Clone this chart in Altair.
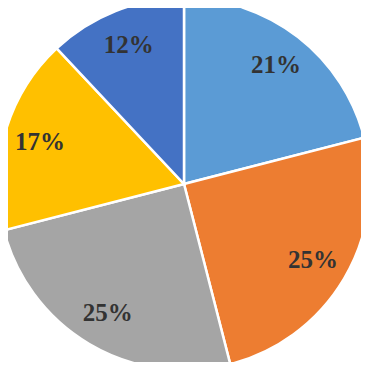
import altair as alt
import pandas as pd

categories = ["A", "B", "C", "D", "E"]
values = [21, 25, 25, 17, 12]
labels = ["21%", "25%", "25%", "17%", "12%"]
colors = ["#5B9BD5", "#ED7D31", "#A5A5A5", "#FFC000", "#4472C4"]

df = pd.DataFrame({"cat": categories, "value": values, "label": labels,
                   "idx": list(range(len(categories)))})

base = alt.Chart(df).encode(
    theta=alt.Theta("value:Q", stack=True),
    order=alt.Order("idx:Q"),
)

arcs = base.mark_arc(radius=186, stroke="white", strokeWidth=2.5,
                     x=176, y=176).encode(
    color=alt.Color("cat:N", scale=alt.Scale(domain=categories, range=colors),
                    legend=None)
)

text = base.mark_text(radius=150, x=176, y=176, font="Liberation Serif",
                      fontWeight="bold", fontSize=25, color="#333333",
                      align="center", baseline="middle").encode(
    text="label:N"
)

chart = (arcs + text).properties(
    width=353, height=354, padding=0,
    autosize=alt.AutoSizeParams(type="none")
).configure_view(stroke=None)

chart.save("out.html", embed_options={"renderer": "svg", "actions": False})
